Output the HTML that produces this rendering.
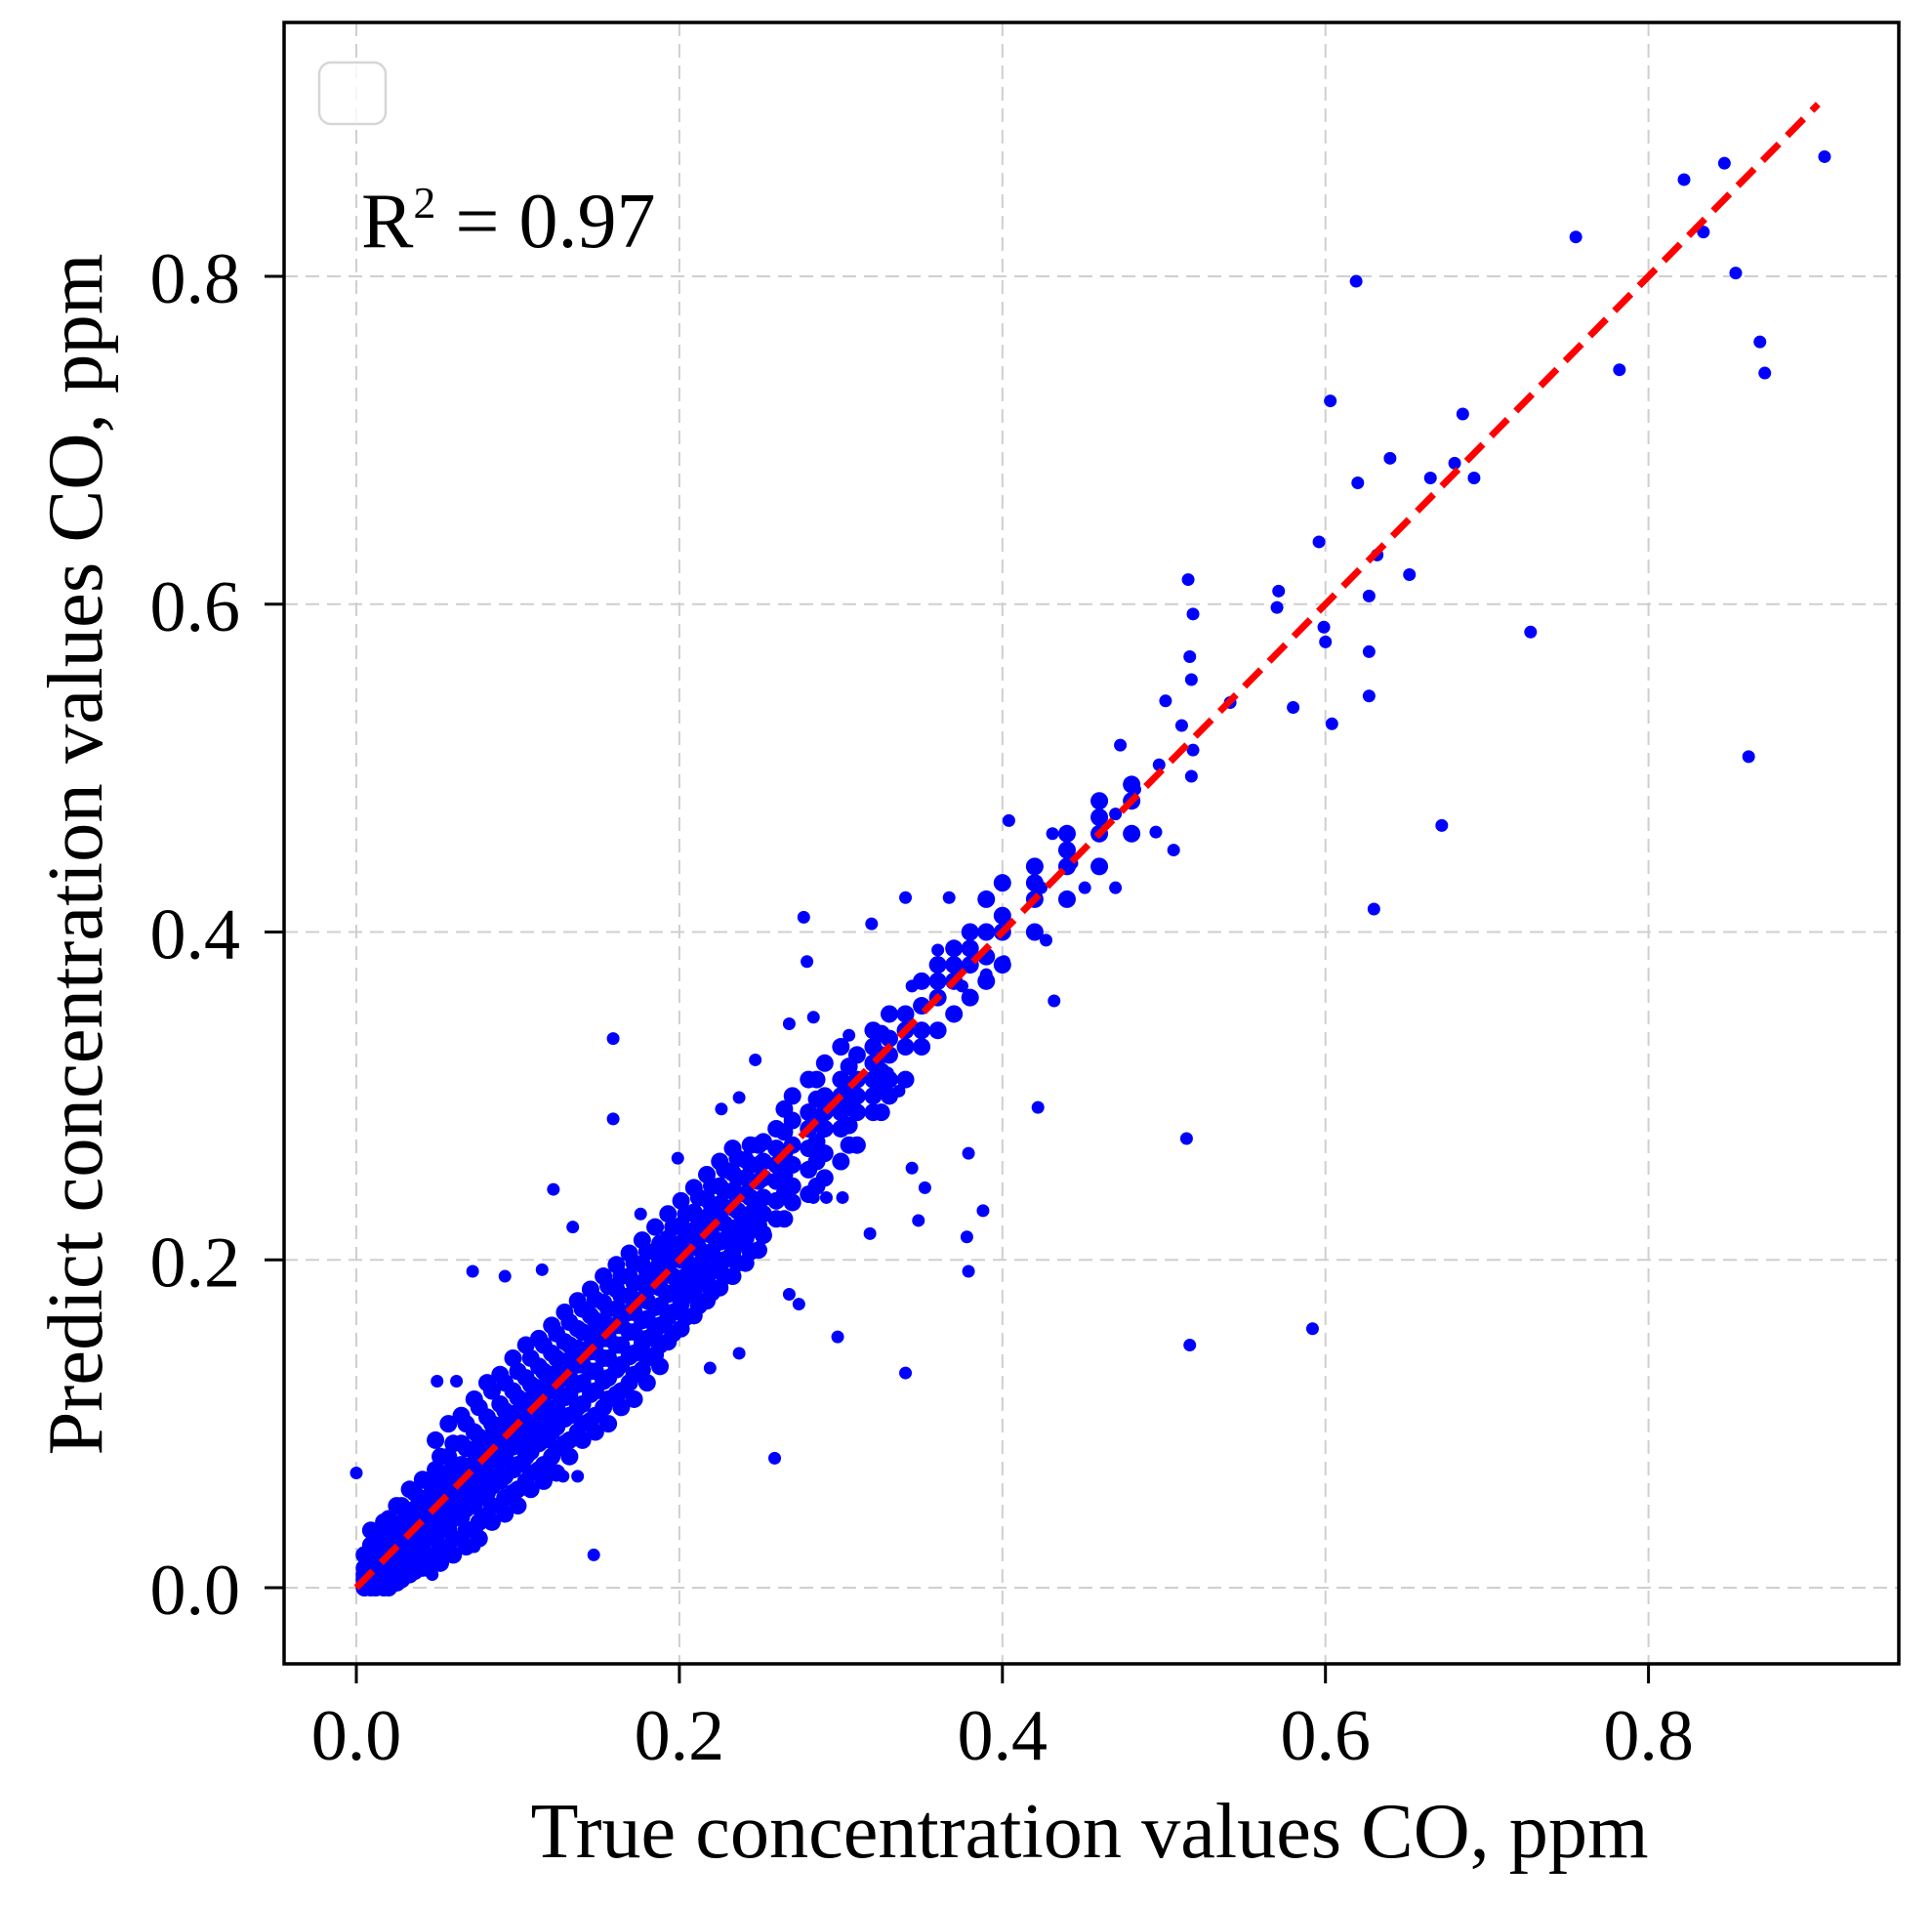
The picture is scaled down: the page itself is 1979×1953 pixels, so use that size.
<!DOCTYPE html>
<html><head><meta charset="utf-8">
<style>
html,body{margin:0;padding:0;background:#fff;}
svg{display:block;font-family:"Liberation Serif",serif;}
</style></head>
<body>
<svg id="chart" width="1979" height="1953" viewBox="0 0 1979 1953" xmlns="http://www.w3.org/2000/svg">
<rect x="0" y="0" width="1979" height="1953" fill="#fff"/>
<g id="grid"></g>
<g id="points"></g>
<g id="fit"></g>
<rect x="291" y="23" width="1654" height="1681" fill="none" stroke="#000" stroke-width="3.5"/>
<g id="ticks"></g>
<rect x="327" y="64" width="68" height="63" rx="12" fill="#fff" fill-opacity="0.8" stroke="#d6d6d6" stroke-width="2.5"/>
<text x="370" y="253" font-size="80">R<tspan font-size="46" dy="-30">2</tspan><tspan dy="30"> = 0.97</tspan></text>
<text x="1116" y="1902" font-size="80" text-anchor="middle" textLength="1145" lengthAdjust="spacingAndGlyphs">True concentration values CO, ppm</text>
<text transform="translate(104,875) rotate(-90)" font-size="80" text-anchor="middle" textLength="1231" lengthAdjust="spacingAndGlyphs">Predict concentration values CO, ppm</text>
</svg>
<script>
const xTicks = [0.0, 0.2, 0.4, 0.6, 0.8];
const yTicks = [0.0, 0.2, 0.4, 0.6, 0.8];
const tickLabels = ["0.0", "0.2", "0.4", "0.6", "0.8"];
const fitLine = [0, 0.905];
// dense core: column x values and predicted y values per column
const coreTrue = [0.005,0.012,0.02,0.028,0.036,0.044,0.052,0.06,0.068,0.076,0.084,0.092,0.1,0.108,0.116,0.124,0.132,0.14,0.148,0.156,0.164,0.172,0.18,0.188,0.196,0.204,0.212,0.22,0.228,0.236,0.244,0.252,0.26,0.27,0.28,0.29,0.3,0.31,0.32,0.33,0.34,0.35,0.36,0.37,0.38,0.39,0.4,0.42,0.44,0.46,0.48];
const corePred = [
[0.0,0.005,0.012,0.02,0.002,0.008],
[0.0,0.006,0.015,0.022,0.03,0.01,0.004],
[0.005,0.012,0.02,0.028,0.035,0.042,0.015,0.0],
[0.01,0.018,0.025,0.033,0.04,0.05,0.005,0.03],
[0.015,0.024,0.032,0.04,0.048,0.058,0.01,0.036],
[0.02,0.03,0.038,0.046,0.055,0.065,0.012,0.042],
[0.025,0.035,0.045,0.052,0.06,0.07,0.08,0.015],
[0.03,0.042,0.05,0.058,0.066,0.075,0.088,0.02],
[0.035,0.048,0.058,0.066,0.074,0.085,0.1,0.025],
[0.04,0.055,0.065,0.074,0.082,0.092,0.11,0.03],
[0.05,0.062,0.072,0.082,0.09,0.1,0.12,0.04],
[0.055,0.068,0.08,0.09,0.098,0.108,0.125,0.045],
[0.06,0.075,0.088,0.098,0.106,0.116,0.132,0.05],
[0.07,0.083,0.095,0.105,0.114,0.124,0.14,0.06],
[0.075,0.09,0.102,0.112,0.122,0.132,0.148,0.065],
[0.085,0.098,0.11,0.12,0.13,0.14,0.155,0.07],
[0.09,0.105,0.118,0.128,0.138,0.148,0.162,0.08],
[0.1,0.112,0.125,0.136,0.145,0.156,0.17,0.09],
[0.105,0.12,0.132,0.144,0.153,0.163,0.176,0.095],
[0.115,0.128,0.14,0.152,0.16,0.17,0.184,0.1],
[0.12,0.136,0.148,0.16,0.168,0.178,0.19,0.11],
[0.13,0.143,0.156,0.168,0.176,0.186,0.198,0.115],
[0.14,0.152,0.164,0.175,0.184,0.193,0.205,0.125],
[0.148,0.16,0.172,0.183,0.192,0.2,0.21,0.135],
[0.155,0.168,0.18,0.19,0.2,0.208,0.22],
[0.165,0.178,0.19,0.2,0.208,0.216,0.228],
[0.172,0.185,0.197,0.207,0.216,0.225,0.238],
[0.18,0.193,0.205,0.215,0.224,0.233,0.245],
[0.19,0.2,0.212,0.222,0.232,0.242,0.255],
[0.198,0.21,0.22,0.23,0.24,0.25,0.262],
[0.205,0.218,0.228,0.238,0.248,0.258,0.27],
[0.215,0.228,0.238,0.25,0.26,0.272],
[0.225,0.236,0.248,0.258,0.268,0.28],
[0.235,0.245,0.258,0.27,0.285,0.3],
[0.24,0.255,0.268,0.28,0.29,0.31],
[0.25,0.265,0.28,0.29,0.3,0.32],
[0.26,0.28,0.29,0.3,0.31,0.33],
[0.27,0.29,0.3,0.31,0.325],
[0.29,0.3,0.31,0.32,0.33,0.34],
[0.3,0.31,0.325,0.335,0.35],
[0.31,0.33,0.34,0.35],
[0.33,0.34,0.355,0.37],
[0.34,0.36,0.37,0.38],
[0.35,0.37,0.38,0.39],
[0.36,0.38,0.39,0.4],
[0.37,0.385,0.4,0.42],
[0.38,0.4,0.41,0.43],
[0.4,0.42,0.43,0.44],
[0.42,0.44,0.45,0.46],
[0.44,0.46,0.47,0.48],
[0.46,0.48,0.49]
];
// second, interleaved set of dense-core columns
const coreTrue2 = [0.009,0.017,0.025,0.033,0.041,0.049,0.057,0.065,0.073,0.081,0.089,0.097,0.105,0.113,0.121,0.129,0.137,0.145,0.153,0.161,0.169,0.177,0.185,0.193,0.201,0.209,0.217,0.225,0.233,0.241,0.249,0.265,0.285,0.305,0.325];
const corePred2 = [
[0.0,0.004,0.01,0.017,0.026,0.035],
[0.0,0.007,0.014,0.022,0.031,0.04],
[0.003,0.012,0.02,0.029,0.038,0.05],
[0.008,0.018,0.027,0.036,0.046,0.06],
[0.012,0.024,0.034,0.044,0.053,0.066],
[0.016,0.03,0.04,0.05,0.06,0.072,0.09],
[0.022,0.036,0.047,0.057,0.068,0.08,0.1],
[0.03,0.043,0.055,0.065,0.075,0.088,0.105],
[0.036,0.05,0.062,0.072,0.083,0.095,0.115],
[0.044,0.058,0.07,0.08,0.091,0.104,0.125],
[0.05,0.065,0.078,0.088,0.099,0.112,0.13],
[0.058,0.072,0.086,0.096,0.106,0.12,0.14],
[0.065,0.08,0.093,0.104,0.114,0.128,0.148],
[0.072,0.088,0.1,0.112,0.122,0.135,0.152],
[0.08,0.095,0.108,0.12,0.13,0.143,0.16],
[0.088,0.103,0.116,0.128,0.138,0.15,0.168],
[0.095,0.11,0.124,0.136,0.146,0.158,0.175],
[0.102,0.118,0.132,0.144,0.154,0.166,0.182],
[0.11,0.126,0.14,0.152,0.162,0.174,0.19],
[0.118,0.133,0.148,0.16,0.17,0.182,0.197],
[0.125,0.141,0.156,0.168,0.178,0.19,0.204],
[0.133,0.149,0.163,0.176,0.186,0.197,0.212],
[0.142,0.157,0.171,0.184,0.194,0.205,0.22],
[0.15,0.165,0.179,0.192,0.202,0.213,0.228],
[0.158,0.173,0.187,0.2,0.21,0.221,0.236],
[0.166,0.181,0.195,0.208,0.218,0.229,0.244],
[0.175,0.189,0.203,0.216,0.226,0.237,0.252],
[0.183,0.197,0.211,0.224,0.234,0.245,0.26],
[0.19,0.205,0.219,0.232,0.242,0.253,0.268],
[0.198,0.213,0.227,0.24,0.25,0.261],
[0.206,0.221,0.235,0.248,0.258,0.27],
[0.225,0.24,0.252,0.265,0.278,0.292],
[0.245,0.26,0.272,0.285,0.298,0.31],
[0.27,0.282,0.295,0.305,0.318],
[0.29,0.305,0.315,0.325,0.338]
];
// scattered points
const trueValues = [0.909,0.847,0.822,0.755,0.834,0.854,0.619,0.869,0.872,0.782,0.603,0.685,0.64,0.62,0.665,0.68,0.692,0.862,0.727,0.672,0.63,0.515,0.518,0.516,0.517,0.571,0.57,0.596,0.599,0.6,0.604,0.58,0.652,0.632,0.627,0.627,0.627,0.541,0.501,0.511,0.518,0.517,0.506,0.495,0.473,0.482,0.497,0.47,0.514,0.516,0.592,0.422,0.404,0.431,0.443,0.451,0.424,0.47,0.432,0.427,0.379,0.378,0.388,0.379,0.352,0.348,0.344,0.34,0.318,0.298,0.274,0.259,0.147,0.159,0.159,0.122,0.072,0.277,0.279,0.319,0.34,0.367,0.191,0.219,0.237,0.0,0.119,0.128,0.137,0.047,0.073,0.291,0.283,0.301,0.253,0.268,0.211,0.36,0.375,0.39,0.401,0.344,0.329,0.336,0.247,0.268,0.283,0.305,0.237,0.226,0.199,0.176,0.134,0.115,0.092,0.062,0.05];
const predValues = [0.873,0.869,0.859,0.824,0.827,0.802,0.797,0.76,0.741,0.743,0.724,0.716,0.689,0.674,0.677,0.686,0.677,0.507,0.583,0.465,0.414,0.615,0.594,0.568,0.554,0.608,0.598,0.638,0.586,0.577,0.527,0.537,0.618,0.63,0.605,0.571,0.544,0.54,0.541,0.526,0.511,0.495,0.45,0.461,0.514,0.487,0.502,0.472,0.274,0.148,0.158,0.293,0.468,0.46,0.442,0.427,0.427,0.427,0.358,0.395,0.193,0.214,0.23,0.265,0.244,0.224,0.256,0.131,0.216,0.153,0.173,0.079,0.02,0.335,0.286,0.243,0.193,0.409,0.382,0.405,0.421,0.421,0.177,0.134,0.143,0.07,0.068,0.068,0.068,0.008,0.025,0.238,0.238,0.238,0.217,0.179,0.213,0.389,0.367,0.374,0.382,0.367,0.314,0.303,0.322,0.344,0.348,0.337,0.299,0.292,0.262,0.228,0.22,0.194,0.19,0.126,0.126];

const NS = "http://www.w3.org/2000/svg";
const X0 = 365, XS = 1654.5, Y0 = 1626, YS = 1678.75;
function xScale(v){ return X0 + v * XS; }
function yScale(v){ return Y0 - v * YS; }
function mk(tag, attrs, parent){
  const e = document.createElementNS(NS, tag);
  for (const k in attrs) e.setAttribute(k, attrs[k]);
  parent.appendChild(e);
  return e;
}
const grid = document.getElementById('grid');
const ticks = document.getElementById('ticks');
xTicks.forEach((t, i) => {
  const x = xScale(t);
  const g = mk('line', {x1:x, x2:x, y1:23, y2:1704, stroke:'#cfcfcf', 'stroke-width':2, 'stroke-dasharray':'14 8'}, grid);
  
  
  const tk = mk('line', {x1:x, x2:x, y1:1704, y2:1724, stroke:'#000', 'stroke-width':3}, ticks);
  
  
  const lb = mk('text', {x:x, y:1802, 'font-size':74, 'text-anchor':'middle'}, ticks);
  lb.textContent = tickLabels[i];
  
  
});
yTicks.forEach((t, i) => {
  const y = yScale(t);
  const g = mk('line', {x1:291, x2:1945, y1:y, y2:y, stroke:'#cfcfcf', 'stroke-width':2, 'stroke-dasharray':'14 8'}, grid);
  
  
  const tk = mk('line', {x1:271, x2:291, y1:y, y2:y, stroke:'#000', 'stroke-width':3}, ticks);
  
  
  const lb = mk('text', {x:246, y:y + 27, 'font-size':74, 'text-anchor':'end'}, ticks);
  lb.textContent = tickLabels[i];
  
  
});
const pts = document.getElementById('points');
function drawGroups(xs, groups){
  xs.forEach((xv, i) => {
    groups[i].forEach(yv => {
      const c = mk('circle', {cx:xScale(xv), cy:yScale(yv), r:9, fill:'#0000ff'}, pts);
      
      
    });
  });
}
drawGroups(coreTrue, corePred);
drawGroups(coreTrue2, corePred2);
trueValues.forEach((xv, i) => {
  const c = mk('circle', {cx:xScale(xv), cy:yScale(predValues[i]), r:6.5, fill:'#0000ff'}, pts);
  
  
});
const fit = document.getElementById('fit');
const ln = mk('line', {x1:xScale(fitLine[0]), y1:yScale(fitLine[0]), x2:xScale(fitLine[1]), y2:yScale(fitLine[1]), stroke:'#ff0000', 'stroke-width':7, 'stroke-dasharray':'24 12'}, fit);


</script>
</body></html>
